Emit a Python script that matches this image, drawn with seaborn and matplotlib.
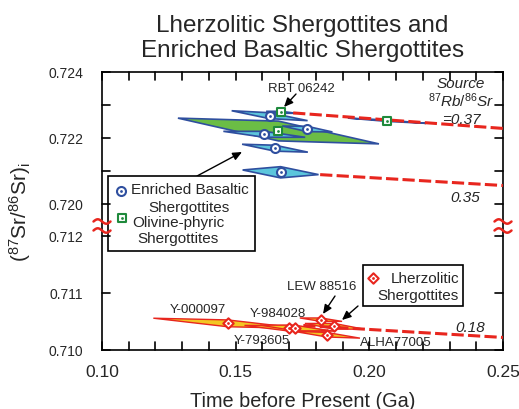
import numpy as np
import matplotlib
matplotlib.use('Agg')
import matplotlib.pyplot as plt
import seaborn as sns
from matplotlib.ticker import FixedLocator, FormatStrFormatter
from matplotlib.patches import Rectangle
from matplotlib.lines import Line2D

# Enriched basaltic shergottites (circles): age (Ga), age error, initial Sr,
# Sr error at the age, Sr change across the age error
eb_age = [0.1627, 0.1768, 0.1607, 0.1647, 0.1668]
eb_age_err = [0.0142, 0.0094, 0.0153, 0.0123, 0.0142]
eb_sr = [0.722676, 0.722273, 0.722112, 0.721691, 0.720961]
eb_sr_err = [0.00009, 0.00008, 0.00009, 0.00009, 0.00017]
eb_drift = [0.00015, 0.00009, 0.00009, 0.00012, 0.00007]

# Olivine-phyric shergottites (squares), first one is RBT 06242
op_age = [0.1670, 0.1660, 0.2066]
op_age_err = [0.0056, 0.0376, 0.0146]
op_sr = [0.722779, 0.722212, 0.722524]
op_sr_err = [0.00003, 0.00030, 0.00002]
op_drift = [0.00003, 0.00039, 0.00008]

# Lherzolitic shergottites (diamonds)
lz_age = [0.1470, 0.1701, 0.1722, 0.1819, 0.1869, 0.1841]
lz_age_err = [0.0278, 0.0168, 0.0130, 0.0079, 0.0110, 0.0124]
lz_sr = [0.710468, 0.710381, 0.710386, 0.710532, 0.710416, 0.710268]
lz_sr_err = [0.00006, 0.00005, 0.00005, 0.00003, 0.00005, 0.00004]
lz_drift = [0.00009, 0.00005, 0.00005, 0.00003, 0.00005, 0.00006]

# Source evolution lines (87Rb/86Sr = 0.37, 0.35, 0.18)
evo_037_t = [0.1715, 0.25]
evo_037_sr = [0.72276, 0.72229]
evo_035_t = [0.1816, 0.25]
evo_035_sr = [0.72089, 0.72056]
evo_018_t = [0.1753, 0.25]
evo_018_sr = [0.71043, 0.71022]

x_ticks = [0.10, 0.15, 0.20, 0.25]
y_major = [0.710, 0.711, 0.712, 0.720, 0.722, 0.724]
y_minor = [0.721, 0.723]

BLUE = '#2f4f9f'
CYAN = '#5cc6dc'
GREEN = '#6bbd45'
DKGREEN = '#1f8a3c'
RED = '#e8261e'
YELLOW = '#f3c623'
AXIS_H = 278.0  # height of the broken axis in scale units


def to_axis(sr):
    """Broken y axis: 0.710-0.712 and 0.720-0.724 stretched, the gap squeezed"""
    sr = np.asarray(sr, dtype=float)
    return np.where(sr <= 0.712, (sr - 0.710) * 57000,
                    np.where(sr >= 0.720, 146 + (sr - 0.720) * 33000,
                             114 + (sr - 0.712) * 4000))


def from_axis(v):
    v = np.asarray(v, dtype=float)
    return np.where(v <= 114, 0.710 + v / 57000,
                    np.where(v >= 146, 0.720 + (v - 146) / 33000,
                             0.712 + (v - 114) / 4000))


def draw_errors(ax, age, age_err, sr, sr_err, drift, faces, edge, lw, z):
    """Error parallelograms: tips follow the evolution slope"""
    for t, dt, y, dy, dr, fc in zip(age, age_err, sr, sr_err, drift, faces):
        ax.fill([t - dt, t, t + dt, t], [y + dr, y + dy, y - dr, y - dy],
                facecolor=fc, edgecolor=edge, linewidth=lw, zorder=z)


def draw_points(ax, x, y, marker, s, edge, transform=None, z=6):
    kw = {} if transform is None else {'transform': transform, 'clip_on': False}
    sns.scatterplot(x=x, y=y, ax=ax, marker=marker, s=s, color='white',
                    edgecolor=edge, linewidth=1.5, zorder=z, legend=False, **kw)
    sns.scatterplot(x=x, y=y, ax=ax, marker='o', s=4, color=edge,
                    edgecolor=edge, linewidth=0, zorder=z + 1, legend=False, **kw)


sns.set_theme(style='ticks')
plt.rcParams['font.family'] = ['Liberation Sans', 'DejaVu Sans']
plt.rcParams['mathtext.fontset'] = 'custom'
plt.rcParams['mathtext.rm'] = 'Liberation Sans'
plt.rcParams['mathtext.it'] = 'Liberation Sans:italic'
plt.rcParams['mathtext.bf'] = 'Liberation Sans:bold'

fig = plt.figure(figsize=(5.19, 4.10), dpi=100)
ax = fig.add_axes([102 / 519, 1 - 351 / 410, 401 / 519, 278 / 410])
ax.set_yscale('function', functions=(to_axis, from_axis))

# error shapes
draw_errors(ax, op_age, op_age_err, op_sr, op_sr_err, op_drift,
            [CYAN, GREEN, CYAN], BLUE, 1.2, 2)
draw_errors(ax, eb_age, eb_age_err, eb_sr, eb_sr_err, eb_drift,
            [CYAN] * len(eb_age), BLUE, 1.2, 3)
draw_errors(ax, lz_age, lz_age_err, lz_sr, lz_sr_err, lz_drift,
            [YELLOW] * len(lz_age), RED, 1.0, 3)

# source evolution lines
for t, sr in [(evo_037_t, evo_037_sr), (evo_035_t, evo_035_sr),
              (evo_018_t, evo_018_sr)]:
    ax.plot(t, sr, color=RED, lw=2.2, dashes=(4, 1.4), zorder=4)

# sample markers
draw_points(ax, eb_age, eb_sr, 'o', 42, BLUE)
draw_points(ax, op_age, op_sr, 's', 40, DKGREEN)
draw_points(ax, lz_age, lz_sr, 'D', 28, RED)

ax.set_xlim(0.10, 0.25)
ax.set_ylim(0.710, 0.724)

ax.set_xlabel('Time before Present (Ga)', fontsize=14.3, va='top')
ax.xaxis.set_label_coords(0.5, -0.1475)
ax.set_ylabel(r'$(^{87}\mathrm{Sr}/^{86}\mathrm{Sr})_\mathrm{i}$', fontsize=15)
ax.yaxis.set_label_coords(-0.172, 0.5)

fig.text(0.583, 1 - 15 / 410,
         'Lherzolitic Shergottites and\nEnriched Basaltic Shergottites',
         ha='center', va='top', fontsize=17.5, linespacing=1.2)

# annotations
ax.text(0.23429, 0.723536, 'Source', ha='center', va='baseline',
        fontsize=11, style='italic')
ax.text(0.23429, 0.722979, r'$^{87}Rb/^{86}Sr$', ha='center', va='baseline',
        fontsize=11)
ax.text(0.23429, 0.722440, '=0.37', ha='center', va='baseline',
        fontsize=11, style='italic')
ax.text(0.23578, 0.72010, '0.35', ha='center', va='baseline',
        fontsize=11, style='italic')
ax.text(0.23765, 0.710339, '0.18', ha='center', va='baseline',
        fontsize=11, style='italic')

names = ['RBT 06242', 'Y-000097', 'Y-984028', 'Y-793605', 'ALHA77005',
         'LEW 88516']
name_t = [0.17444, 0.13591, 0.16595, 0.15974, 0.20978, 0.18218]
name_sr = [0.723415, 0.710661, 0.710602, 0.710123, 0.710093, 0.711070]
for n, t, sr in zip(names, name_t, name_sr):
    ax.text(t, sr, n, ha='center', va='baseline', fontsize=9.5, zorder=8)

arrows = [((0.17257, 0.723333), (0.16808, 0.722939)),
          ((0.13554, 0.720848), (0.15237, 0.721576)),
          ((0.18716, 0.710947), (0.18267, 0.710632)),
          ((0.19576, 0.710772), (0.18977, 0.710526))]
for tail, head in arrows:
    ax.annotate('', xy=head, xytext=tail, zorder=8,
                arrowprops=dict(arrowstyle='-|>,head_length=0.45,head_width=0.2',
                                color='black', lw=1.0, shrinkA=0, shrinkB=0))

# keys
ax.add_patch(Rectangle((0.015, 0.356), 0.3665, 0.270, transform=ax.transAxes,
                       facecolor='white', edgecolor='black', lw=1.2, zorder=8))
ax.add_patch(Rectangle((0.651, 0.158), 0.249, 0.148, transform=ax.transAxes,
                       facecolor='white', edgecolor='black', lw=1.2, zorder=8))
draw_points(ax, [0.0474], [0.5709], 'o', 42, BLUE, ax.transAxes, z=10)
draw_points(ax, [0.0491], [0.4748], 's', 40, DKGREEN, ax.transAxes, z=10)
draw_points(ax, [0.6758], [0.2590], 'D', 28, RED, ax.transAxes, z=10)
key_lines = [('Enriched Basaltic', 0.2182, 0.5637, 'center'),
             ('Shergottites', 0.2170, 0.5011, 'center'),
             ('Olivine-phyric', 0.1895, 0.4471, 'center'),
             ('Shergottites', 0.1895, 0.3874, 'center'),
             ('Lherzolitic', 0.8903, 0.2435, 'right'),
             ('Shergottites', 0.8903, 0.1835, 'right')]
for s, x, y, ha in key_lines:
    ax.text(x, y, s, transform=ax.transAxes, ha=ha, va='baseline',
            fontsize=11, zorder=12)

# tick labels
ax.xaxis.set_major_locator(FixedLocator(x_ticks))
ax.xaxis.set_major_formatter(FormatStrFormatter('%.2f'))
ax.yaxis.set_major_locator(FixedLocator(y_major))
ax.yaxis.set_major_formatter(FormatStrFormatter('%.3f'))
ax.tick_params(which='both', direction='in', length=0)
ax.tick_params(axis='x', which='major', labelsize=12.5, pad=10)
ax.tick_params(axis='y', which='major', labelsize=10, pad=13.5)
for sp in ax.spines.values():
    sp.set_linewidth(1.2)
    sp.set_color('black')

# inward tick marks and axis break marks, added on the figure on top of the axes
tl_x, tl_y = 8 / 278, 8 / 401
for loc in np.linspace(0.10, 0.25, 16):
    fx = (loc - 0.10) / 0.15
    for y0, y1 in ((0, tl_x), (1 - tl_x, 1)):
        fig.add_artist(Line2D([fx, fx], [y0, y1], transform=ax.transAxes,
                              color='black', lw=1.2, zorder=20))
for loc in y_major + y_minor:
    fy = float(to_axis(loc)) / AXIS_H
    for x0, x1 in ((0, tl_y), (1 - tl_y, 1)):
        fig.add_artist(Line2D([x0, x1], [fy, fy], transform=ax.transAxes,
                              color='black', lw=1.2, zorder=20))

u = np.linspace(-1, 1, 40)
for xc in (0.0, 1.0):
    for yc in ((351 - 222.5) / 278, (351 - 231.5) / 278):
        fig.add_artist(Line2D(xc + u * 8.5 / 401,
                              yc - 2.2 * np.sin(np.pi * u) / 278,
                              transform=ax.transAxes, color=RED, lw=1.8,
                              zorder=21))

fig.savefig('out.png', dpi=100)
